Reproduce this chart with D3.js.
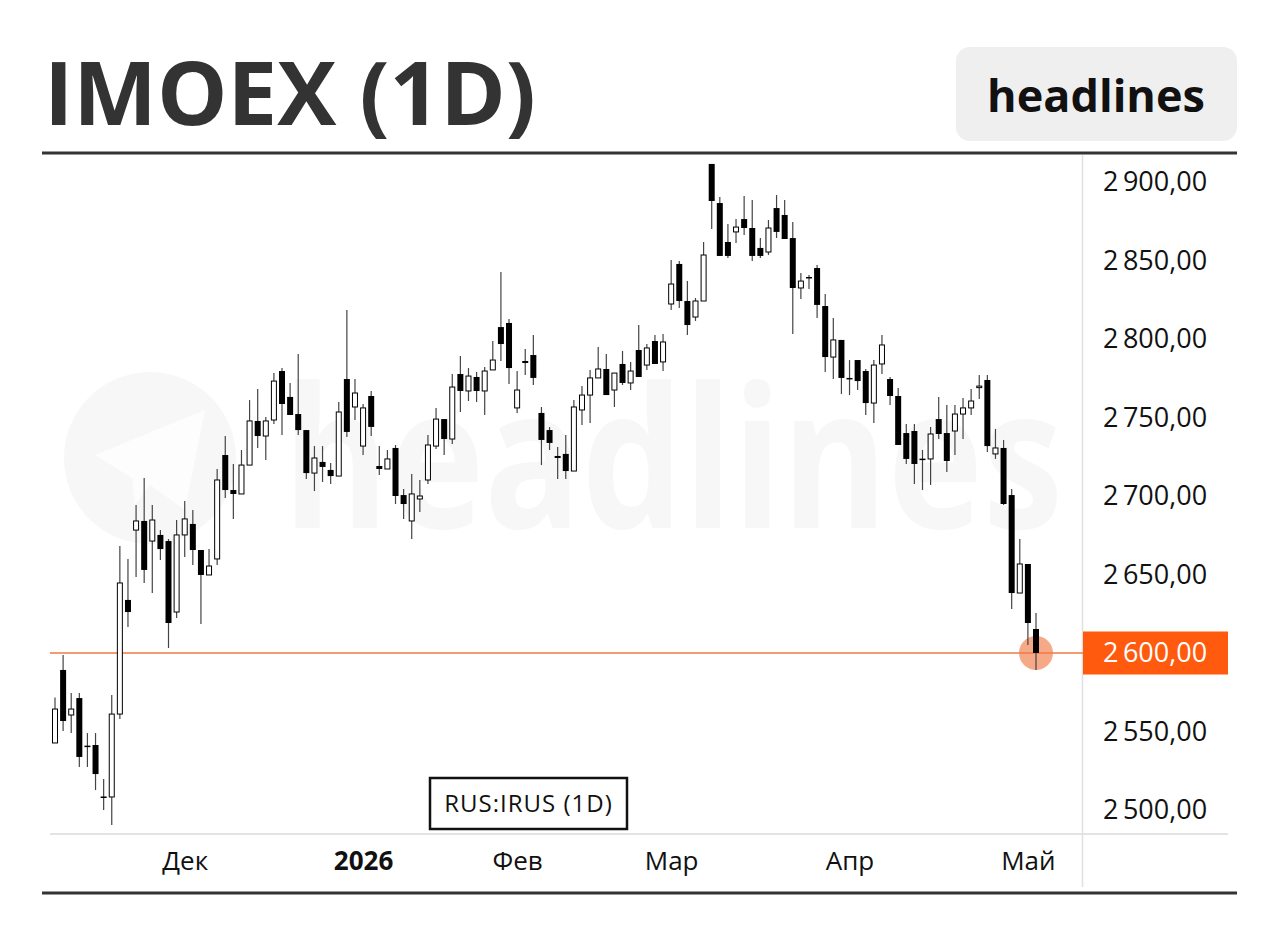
<!DOCTYPE html>
<html><head><meta charset="utf-8">
<script src="https://cdn.jsdelivr.net/npm/d3@7/dist/d3.min.js"></script>
<style>
html,body{margin:0;padding:0;background:#fff;}
svg{display:block;}
text{font-family:"Open Sans","Noto Sans",sans-serif;}
</style></head>
<body>
<svg id="chart" width="1280" height="941"></svg>
<script>
// ---- DATA ----
const title = "IMOEX (1D)";
const brand = "headlines";
const legendLabel = "RUS:IRUS (1D)";
const lastPrice = 2600;
const yTicks = [2500, 2550, 2600, 2650, 2700, 2750, 2800, 2850, 2900];
const xTickLabels = ["Дек", "2026", "Фев", "Мар", "Апр", "Май"];
const xTickBars = [16, 38, 57, 76, 98, 120]; // first bar of each month
const xTickBold = [false, true, false, false, false, false];
// daily candles: open, high, low, close
const opens = [2542.7,2589.2,2560.5,2571.3,2541,2541.4,2508.6,2508.3,2561.1,2633.8,2678.3,2684.1,2671.3,2675.2,2671.3,2626.1,2675.2,2682.2,2665.6,2649.7,2659.9,2726.1,2703.8,2701.3,2719.7,2747.8,2738.2,2748.4,2779.6,2763.1,2752.2,2742,2714.6,2721.7,2716.6,2712.7,2774.5,2756.7,2731.8,2763.7,2719.1,2717.2,2730.6,2700.6,2684.1,2698.1,2710.2,2731.8,2749,2736.3,2777.7,2766.9,2775.8,2766.9,2780.3,2807.6,2810.2,2756.1,2786,2789.8,2752.9,2742,2725.5,2726.8,2715.9,2754.8,2764.3,2775.2,2780.9,2767.5,2784.1,2772,2793,2783.4,2798.7,2785.4,2822.3,2847.8,2824.2,2814,2824.2,2911.5,2886.6,2861.8,2868.2,2876.4,2870.7,2858,2855.4,2883.4,2879,2864.3,2832.5,2839.5,2845.2,2821,2788.5,2799.4,2775.2,2786.6,2779.6,2759.2,2784.1,2774.5,2763.7,2740.1,2741.4,2723.8,2723.6,2749,2740.1,2741.4,2752.2,2756.1,2769.8,2773.9,2726.8,2730.6,2700.6,2638.2,2656.7,2615.3];
const highs = [2571.7,2598.7,2574.5,2574.5,2549,2549,2519.7,2573.2,2668.2,2659.9,2694.3,2711.5,2694.3,2678.3,2672.6,2684.7,2696.8,2691.1,2665.6,2666.2,2717.2,2738.2,2720.4,2729.3,2761.1,2768.2,2750.3,2778.3,2781.5,2772,2790.4,2742,2731.8,2731.8,2721,2759.9,2818.5,2774.5,2758.6,2766.9,2731.8,2729.3,2732.5,2704.5,2714,2710.2,2738.9,2756.1,2749,2777.7,2789.2,2781.5,2779,2782.2,2798.7,2842.7,2812.7,2779.6,2793.6,2802.5,2756.7,2743.9,2731.2,2738.9,2761.1,2770,2780.3,2794.9,2790.4,2778.3,2792.4,2785.4,2808.9,2796.8,2802.5,2803.2,2850.3,2849.7,2836.9,2826.1,2861.8,2911.5,2890.4,2873.2,2876.4,2891.1,2888.5,2864.3,2875.8,2891.7,2888.5,2874.5,2842,2840.8,2847.1,2828.7,2813.4,2799.4,2786.6,2786.6,2780.9,2786.6,2802.5,2775.8,2768.8,2745.9,2745.9,2729.3,2743.9,2763.1,2758,2758,2762.4,2768.2,2777,2777,2742.7,2735.7,2704.5,2672.6,2656.7,2625.5];
const lows = [2542.7,2550.3,2549,2527.4,2527.4,2512.7,2500,2490.4,2558,2616.6,2648.4,2644.6,2638.2,2659.2,2603.2,2622.3,2661.1,2656,2618.5,2649.7,2656,2698.7,2685.4,2701.3,2719.7,2730.6,2722.9,2745.9,2738.9,2751.6,2738.9,2710.8,2703.2,2708.9,2707.6,2712.7,2737.6,2748.4,2726.1,2738.2,2713.4,2717.2,2694.9,2685.4,2672.6,2689.8,2707.6,2729.9,2726.1,2733.1,2753.5,2760.5,2759.9,2751.6,2780.3,2786,2771.3,2752.9,2777,2770.7,2719.7,2729.3,2710.8,2710.8,2715.9,2745.2,2746.5,2775.2,2764.3,2756.7,2770.7,2767.5,2775.8,2780.3,2784.1,2779.6,2818.5,2819.7,2802.5,2811.5,2824.2,2870.1,2852.9,2851.6,2861.1,2866.2,2849.7,2851.6,2853.5,2864.3,2863.7,2803.2,2825.5,2831.8,2813.4,2779,2774.5,2765,2764.3,2767.5,2751.6,2746.5,2777.7,2758,2732.5,2720.4,2707.6,2703.8,2707,2736.3,2715.3,2726.1,2736.3,2751.6,2761.8,2728,2723.6,2694.3,2628,2638.2,2605.1,2589.2];
const closes = [2564.3,2556.7,2564.3,2533.8,2540.6,2522.9,2508.3,2561.1,2644.6,2626.1,2684.1,2652.9,2684.7,2666.2,2619.1,2675.2,2685.4,2665.6,2649.7,2655.4,2710.2,2703.8,2701.3,2719.7,2747.8,2738.2,2747.8,2773.2,2758.6,2751.6,2742,2714.6,2724.2,2718.5,2712.7,2753.5,2740.8,2765.6,2756.1,2744,2717.2,2723.6,2700,2694.9,2701.3,2700,2732.5,2749,2736.3,2769.4,2766.9,2776.4,2766.9,2779.6,2786.6,2796.8,2781.5,2767.5,2784.7,2775.2,2735.7,2733.8,2724.2,2715.9,2756.7,2764.3,2775.2,2780.9,2764.3,2778.3,2772,2779.6,2775.8,2794.3,2784.1,2798.1,2835,2824.2,2808.9,2824.2,2853.5,2887.9,2852.9,2852.9,2871.3,2870.7,2852.9,2852.9,2870.7,2868.2,2863.7,2832.5,2836.9,2839,2821.7,2788.5,2799.4,2775.2,2774.5,2773.2,2759.2,2783.4,2796.2,2763.7,2732.5,2723.6,2720.4,2723.6,2739.5,2739.5,2722.3,2752.2,2756.1,2760.5,2770,2731.8,2730.6,2694.9,2638.2,2656.7,2619.1,2600];

// ---- CHART ----
const svg = d3.select("#chart");
const W = 1280, H = 941;
svg.append("rect").attr("width", W).attr("height", H).attr("fill", "#fff");

const candles = opens.map((o, i) => ({i, o, h: highs[i], l: lows[i], c: closes[i]}));
const x = d3.scalePoint().domain(d3.range(candles.length)).range([55, 1036]);
const y = d3.scaleLinear().domain([2500, 2900]).range([810, 182]);

const loc = d3.formatLocale({decimal: ",", thousands: "\u2009", grouping: [3], currency: ["", ""]});
const fmt = loc.format(",.2f");

// watermark (faint, behind the chart), kept inside the plot area
const wm = svg.append("g");
wm.append("circle").attr("cx", 150).attr("cy", 458).attr("r", 86).attr("fill", "#f7f7f7");
wm.append("path").attr("d", "M95,455 L205,410 L185,510 L150,485 L135,505 L132,478 Z").attr("fill", "#fdfdfd");
const wmt = wm.append("text").attr("x", 0).attr("y", 0).attr("font-size", 196).attr("font-weight", 700)
  .attr("fill", "#f7f7f7").text(brand);
const wmLen = wmt.node().getComputedTextLength();
const wmFs = 196 * 780 / wmLen;
wmt.attr("font-size", wmFs).attr("transform", `translate(283,528) scale(1,${196 / wmFs})`);

// title
const t = svg.append("text").attr("x", 44).attr("y", 125).attr("font-size", 92).attr("font-weight", 700)
  .attr("fill", "#333").text(title);
const tl = t.node().getComputedTextLength();
t.attr("font-size", 92 * 492 / tl);

// brand box
svg.append("rect").attr("x", 956).attr("y", 47).attr("width", 281).attr("height", 94).attr("rx", 14).attr("fill", "#efefef");
svg.append("text").attr("x", 1096).attr("y", 112).attr("text-anchor", "middle").attr("font-size", 45)
  .attr("font-weight", 700).attr("fill", "#111").text(brand);

// frame lines
svg.append("line").attr("x1", 42).attr("x2", 1237).attr("y1", 153).attr("y2", 153).attr("stroke", "#333").attr("stroke-width", 3);
svg.append("line").attr("x1", 42).attr("x2", 1237).attr("y1", 893).attr("y2", 893).attr("stroke", "#333").attr("stroke-width", 3);
svg.append("line").attr("x1", 50).attr("x2", 1228).attr("y1", 834).attr("y2", 834).attr("stroke", "#e3e3e3").attr("stroke-width", 2);
svg.append("line").attr("x1", 1082.5).attr("x2", 1082.5).attr("y1", 155).attr("y2", 887).attr("stroke", "#e0e0e0").attr("stroke-width", 1.5);

// last price line & marker
svg.append("circle").attr("cx", x(candles.length - 1)).attr("cy", y(lastPrice)).attr("r", 17).attr("fill", "#f59a72").attr("opacity", 0.85);
svg.append("line").attr("x1", 50).attr("x2", 1083).attr("y1", y(lastPrice)).attr("y2", y(lastPrice))
  .attr("stroke", "#ef7a45").attr("stroke-width", 1.5);

// candles
const cg = svg.append("g");
const bw = 6;
cg.selectAll("line.wick").data(candles).join("line").attr("class", "wick")
  .attr("x1", d => x(d.i)).attr("x2", d => x(d.i)).attr("y1", d => y(d.h)).attr("y2", d => y(d.l))
  .attr("stroke", "#444").attr("stroke-width", 1.2);
cg.selectAll("rect.body").data(candles).join("rect").attr("class", "body")
  .attr("x", d => x(d.i) - bw / 2 + (d.c >= d.o ? 0.5 : 0))
  .attr("width", d => d.c >= d.o ? bw - 1 : bw)
  .attr("y", d => y(Math.max(d.o, d.c)))
  .attr("height", d => Math.max(1.5, Math.abs(y(d.o) - y(d.c))))
  .attr("fill", d => d.c >= d.o ? "#fff" : "#000")
  .attr("stroke", d => d.c >= d.o ? "#000" : "none")
  .attr("stroke-width", 1);

// y axis
const yAxis = d3.axisRight(y).tickValues(yTicks).tickSize(0).tickPadding(0).tickFormat(fmt);
const ya = svg.append("g").attr("transform", "translate(1103,0)").call(yAxis);
ya.select(".domain").remove();
ya.selectAll("text").attr("font-size", 27).attr("fill", "#111").attr("font-family", "'Open Sans',sans-serif");
// the last-price label replaces the regular label at the same level
ya.selectAll(".tick").filter(d => d === lastPrice).remove();

// price label
const py = y(lastPrice);
svg.append("rect").attr("x", 1083).attr("y", py - 21.5).attr("width", 145).attr("height", 43).attr("fill", "#ff5a0d");
svg.append("text").attr("x", 1103).attr("y", py).attr("dy", "0.35em").attr("font-size", 27).attr("fill", "#fff").text(fmt(lastPrice));

// x axis labels
const xAxis = d3.axisBottom(x).tickValues(xTickBars).tickSize(0).tickPadding(0)
  .tickFormat((d, k) => xTickLabels[k]);
const xa = svg.append("g").attr("transform", "translate(0,852)").call(xAxis);
xa.select(".domain").remove();
xa.selectAll("text").attr("font-size", 26).attr("fill", "#111").attr("font-family", "'Open Sans',sans-serif")
  .attr("font-weight", (d, k) => xTickBold[k] ? 700 : 400);

// legend box
svg.append("rect").attr("x", 430).attr("y", 778).attr("width", 197).attr("height", 51)
  .attr("fill", "#fff").attr("stroke", "#111").attr("stroke-width", 2.5);
svg.append("text").attr("x", 528.5).attr("y", 812).attr("text-anchor", "middle").attr("font-size", 24)
  .attr("letter-spacing", 1).attr("fill", "#111").text(legendLabel);
</script>
</body></html>
